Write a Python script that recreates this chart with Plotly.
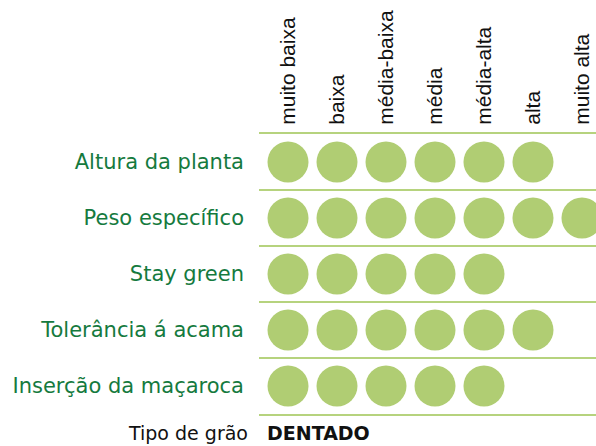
import plotly.graph_objects as go

niveis = ["muito baixa", "baixa", "média-baixa", "média", "média-alta", "alta", "muito alta"]
caracteristicas = ["Altura da planta", "Peso específico", "Stay green",
                   "Tolerância á acama", "Inserção da maçaroca"]
nivel_atingido = [6, 7, 5, 6, 5]  # number of filled circles per trait
tipo_grao_label = "Tipo de grão"
tipo_grao = "DENTADO"

GREEN_TXT = "#157a3e"
CIRCLE = "#b0cd73"
LINE = "#b6d37e"

xs, ys = [], []
for i, n in enumerate(nivel_atingido):
    for j in range(n):
        xs.append(j)
        ys.append(i)

fig = go.Figure()
fig.add_trace(go.Scatter(
    x=xs, y=ys, mode="markers",
    marker=dict(size=41, color=CIRCLE, line=dict(width=0)),
    hoverinfo="skip", showlegend=False,
))

fig.update_layout(
    width=596, height=446,
    margin=dict(l=259, r=0, t=134, b=32),
    paper_bgcolor="white", plot_bgcolor="white",
    xaxis=dict(
        range=[-0.592, 6.286], side="top",
        tickmode="array", tickvals=list(range(len(niveis))), ticktext=niveis,
        tickangle=-90, tickfont=dict(family="Liberation Sans, Arial", size=21, color="#111"),
        showgrid=False, zeroline=False,
        showline=True, mirror=True, linecolor=LINE, linewidth=2,
        ticks="", ticklabelstandoff=3, automargin=False,
    ),
    yaxis=dict(
        range=[4.5, -0.5],
        tickmode="array", tickvals=list(range(len(caracteristicas))), ticktext=caracteristicas,
        tickfont=dict(family="DejaVu Sans", size=21, color=GREEN_TXT),
        showgrid=False, zeroline=False, showline=False,
        ticks="", ticklabelstandoff=14, automargin=False,
        minor=dict(tickmode="array", tickvals=[0.5, 1.5, 2.5, 3.5],
                   showgrid=True, gridcolor=LINE, gridwidth=2, ticks=""),
    ),
    annotations=[
        dict(text=tipo_grao_label, xref="paper", yref="paper", x=0, y=0,
             xanchor="right", yanchor="middle", xshift=-9, yshift=-19, showarrow=False,
             font=dict(family="DejaVu Sans", size=19, color="#111")),
        dict(text="<b>" + tipo_grao + "</b>", xref="paper", yref="paper", x=0, y=0,
             xanchor="left", yanchor="middle", xshift=6, yshift=-19, showarrow=False,
             font=dict(family="DejaVu Sans", size=19, color="#111")),
    ],
)

fig.write_html("out.html", config={"displayModeBar": False},
               post_script="document.body.style.margin='0';document.body.style.overflow='hidden';")
